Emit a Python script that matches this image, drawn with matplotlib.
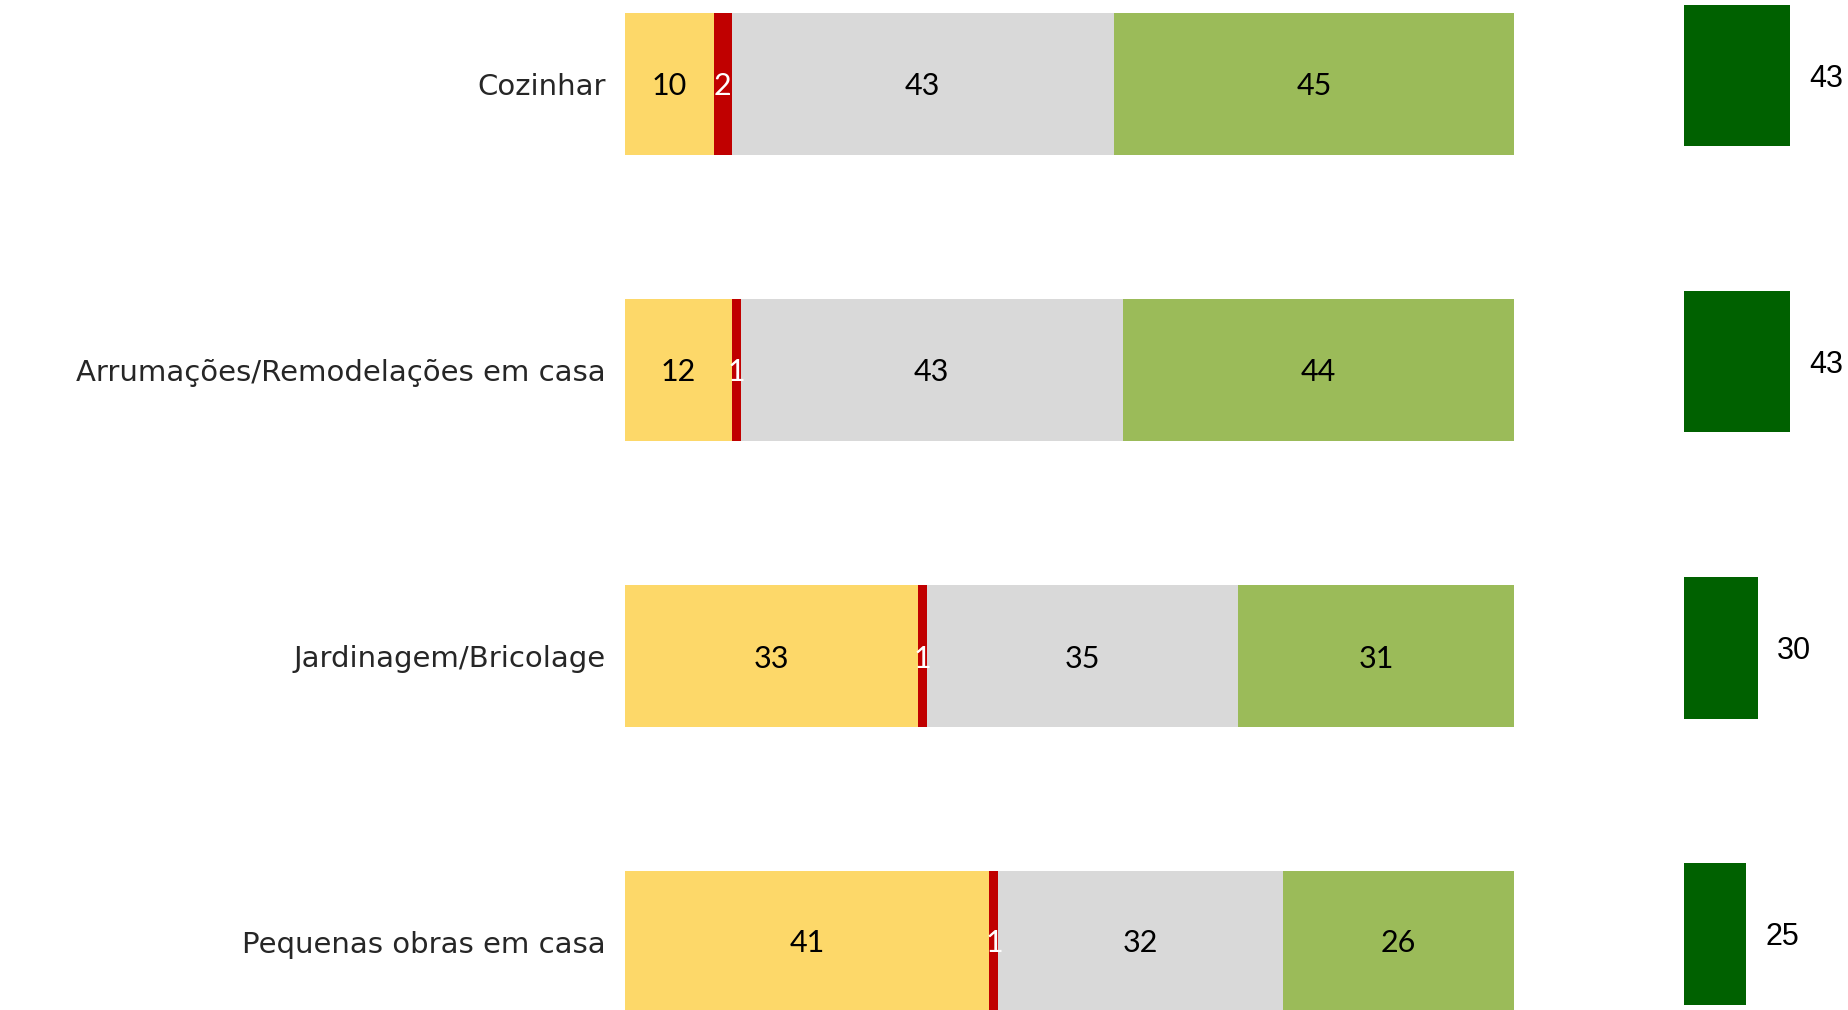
import numpy as np
import matplotlib as mpl
mpl.use('Agg')
import matplotlib.pyplot as plt

# data
categories = ['Cozinhar', 'Arrumações/Remodelações em casa',
              'Jardinagem/Bricolage', 'Pequenas obras em casa']
seg_yellow = [10, 12, 33, 41]
seg_red = [2, 1, 1, 1]
seg_gray = [43, 43, 35, 32]
seg_green = [45, 44, 31, 26]
side_values = [43, 43, 30, 25]

colors = ['#FDD869', '#C00000', '#D9D9D9', '#9BBB59']
label_colors = ['black', 'white', 'black', 'black']
side_color = '#006100'

plt.rcParams['font.family'] = ['DejaVu Sans']

fig = plt.figure(figsize=(18.49, 10.10), dpi=100)

# main stacked bars
ax = fig.add_axes([625 / 1849, 0, (1514 - 625) / 1849, 1])
y = np.arange(len(categories))
left = np.zeros(len(categories))
for vals, col, lcol in zip([seg_yellow, seg_red, seg_gray, seg_green], colors, label_colors):
    vals = np.array(vals, dtype=float)
    bars = ax.barh(y, vals, left=left, height=0.495, color=col, edgecolor='none')
    txts = ax.bar_label(bars, labels=[str(int(v)) for v in vals], label_type='center',
                        color=lcol, fontsize=22, family=['Lato', 'DejaVu Sans'])
    for t in txts:
        t.set_va('center_baseline')
    left += vals

ax.set_xlim(0, 100)
ax.set_ylim(3.237, -0.2925)
ax.set_yticks(y)
ax.set_yticklabels(categories, fontsize=21, color='#262626')
ax.tick_params(axis='y', length=0, pad=14)
ax.set_xticks([])
for s in ax.spines.values():
    s.set_visible(False)

# side bars
ax2 = fig.add_axes([1684 / 1849, 0, 165 / 1849, 1])
bars2 = ax2.barh(y, side_values, height=0.495, color=side_color, edgecolor='none')
txts = ax2.bar_label(bars2, labels=[str(v) for v in side_values], padding=14,
                     fontsize=22, family=['Liberation Sans', 'DejaVu Sans'])
for t in txts:
    t.set_va('center_baseline')
ax2.set_xlim(0, 67)
ax2.set_ylim(3.266, -0.2635)
ax2.axis('off')

fig.savefig('out.png', dpi=100)
